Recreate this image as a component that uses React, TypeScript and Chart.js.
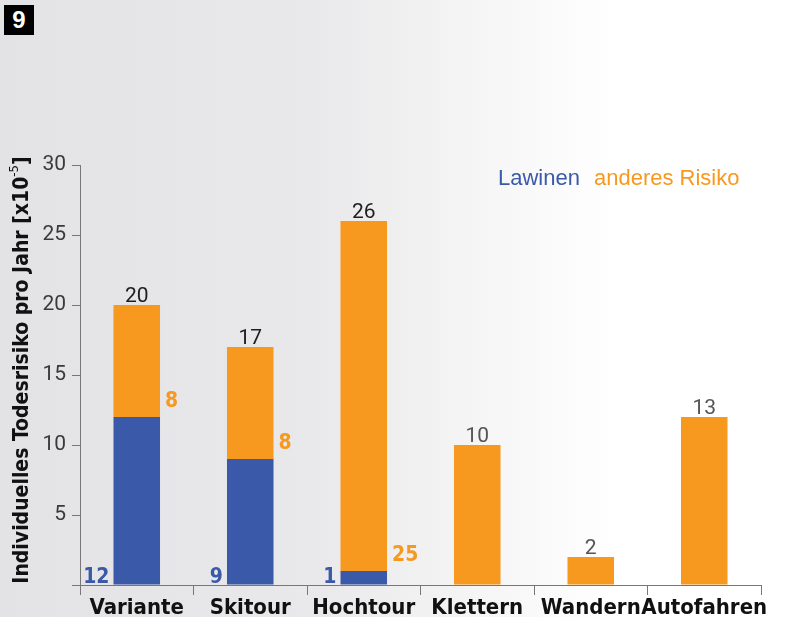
import React, { useEffect, useRef } from "react";
import { Chart, registerables } from "chart.js";
Chart.register(...registerables);

const categories = ["Variante", "Skitour", "Hochtour", "Klettern", "Wandern", "Autofahren"];
const lawinenValues = [12, 9, 1, 0, 0, 0];
const anderesValues = [8, 8, 25, 10, 2, 12];
const totalLabels = ["20", "17", "26", "10", "2", "13"];
const lawinenLabels = ["12", "9", "1", "", "", ""];
const anderesLabels = ["8", "8", "25", "", "", ""];
const seriesNames = ["Lawinen", "anderes Risiko"];
const yTitleMain = "Individuelles Todesrisiko pro Jahr [x10";
const yTitleExp = "-5";
const yTitleEnd = "]";
const figureNumber = "9";

const BLUE = "#3a59a8";
const ORANGE = "#f7991e";
const NARROW = "'Liberation Sans Narrow', 'DejaVu Sans Condensed', 'Liberation Sans', sans-serif";

const labelPlugin = {
  id: "labels",
  afterDatasetsDraw(chart: any) {
    const ctx = chart.ctx;
    const m0 = chart.getDatasetMeta(0);
    const m1 = chart.getDatasetMeta(1);
    ctx.save();
    categories.forEach((_, i) => {
      const b0 = m0.data[i];
      const b1 = m1.data[i];
      const half = b1.width / 2;
      ctx.font = "21px Roboto, 'Liberation Sans', sans-serif";
      ctx.fillStyle = i < 3 ? "#1e1e1e" : "#555";
      ctx.textAlign = "center";
      ctx.textBaseline = "alphabetic";
      ctx.fillText(totalLabels[i], b1.x, b1.y - 3);
      if (lawinenLabels[i]) {
        ctx.font = "bold 21px " + NARROW;
        ctx.fillStyle = BLUE;
        ctx.textAlign = "right";
        ctx.textBaseline = "alphabetic";
        ctx.fillText(lawinenLabels[i], b0.x - half - 4, b0.base - 2);
      }
      if (anderesLabels[i]) {
        ctx.font = "bold 21px " + NARROW;
        ctx.fillStyle = ORANGE;
        ctx.textAlign = "left";
        ctx.textBaseline = "middle";
        ctx.fillText(anderesLabels[i], b1.x + half + 5, b1.base - 15);
      }
    });
    ctx.font = "22px 'Liberation Sans', sans-serif";
    ctx.textBaseline = "middle";
    ctx.textAlign = "left";
    ctx.fillStyle = BLUE;
    ctx.fillText(seriesNames[0], 498, 179);
    const w0 = ctx.measureText(seriesNames[0]).width;
    ctx.fillStyle = ORANGE;
    ctx.fillText(seriesNames[1], 498 + w0 + 14, 179);
    ctx.translate(23, 370);
    ctx.rotate(-Math.PI / 2);
    const mainFont = "bold 21px " + NARROW;
    const expFont = "13px " + NARROW;
    ctx.font = mainFont;
    const wa = ctx.measureText(yTitleMain).width;
    const wc = ctx.measureText(yTitleEnd).width;
    ctx.font = expFont;
    const wb = ctx.measureText(yTitleExp).width;
    let x = -(wa + wb + wc) / 2;
    ctx.fillStyle = "#111";
    ctx.textBaseline = "middle";
    ctx.font = mainFont;
    ctx.fillText(yTitleMain, x, 0);
    x += wa;
    ctx.font = expFont;
    ctx.fillText(yTitleExp, x, -8);
    x += wb;
    ctx.font = mainFont;
    ctx.fillText(yTitleEnd, x, 0);
    ctx.restore();
  },
};

export default function App() {
  const ref = useRef<HTMLCanvasElement>(null);
  useEffect(() => {
    if (!ref.current) return;
    const chart = new Chart(ref.current, {
      type: "bar",
      data: {
        labels: categories,
        datasets: [
          { label: seriesNames[0], data: lawinenValues, backgroundColor: BLUE, barPercentage: 0.41, categoryPercentage: 1 },
          { label: seriesNames[1], data: anderesValues, backgroundColor: ORANGE, barPercentage: 0.41, categoryPercentage: 1 },
        ],
      },
      options: {
        responsive: false,
        animation: false,
        layout: { padding: { top: 165, right: 29, bottom: 0, left: 0 } },
        plugins: { legend: { display: false }, tooltip: { enabled: false } },
        scales: {
          x: {
            stacked: true,
            afterFit: (s: any) => { s.height = 32; },
            grid: { offset: true, drawOnChartArea: false, drawTicks: true, tickLength: 10, color: "#777" },
            border: { display: true, color: "#777" },
            ticks: {
              color: "#111",
              padding: 0,
              maxRotation: 0,
              minRotation: 0,
              autoSkip: false,
              font: { family: NARROW, size: 22, weight: "bold" },
            },
          },
          y: {
            stacked: true,
            min: 0,
            max: 30,
            afterFit: (s: any) => { s.width = 80; },
            grid: { drawOnChartArea: false, drawTicks: true, tickLength: 8, color: "#777" },
            border: { display: true, color: "#777" },
            ticks: {
              stepSize: 5,
              padding: 6,
              color: "#3a3a3a",
              font: { family: "Roboto, 'Liberation Sans', sans-serif", size: 21 },
              callback: (v: any) => (v === 0 ? "" : String(v)),
            },
          },
        },
      },
      plugins: [labelPlugin],
    } as any);
    return () => chart.destroy();
  }, []);
  return (
    <div
      style={{
        position: "absolute",
        left: 0,
        top: 0,
        width: 790,
        height: 617,
        background: "linear-gradient(to right, #e3e3e5 0%, #e9e9eb 40%, #f6f6f6 62%, #ffffff 78%)",
        overflow: "hidden",
      }}
    >
      <div
        style={{
          position: "absolute",
          left: 4,
          top: 5,
          width: 30,
          height: 30,
          background: "#000",
          color: "#fff",
          fontFamily: "'Liberation Sans', sans-serif",
          fontWeight: "bold",
          fontSize: 24,
          lineHeight: "30px",
          textAlign: "center",
        }}
      >
        {figureNumber}
      </div>
      <canvas ref={ref} width={790} height={617} style={{ position: "absolute", left: 0, top: 0 }} />
    </div>
  );
}
